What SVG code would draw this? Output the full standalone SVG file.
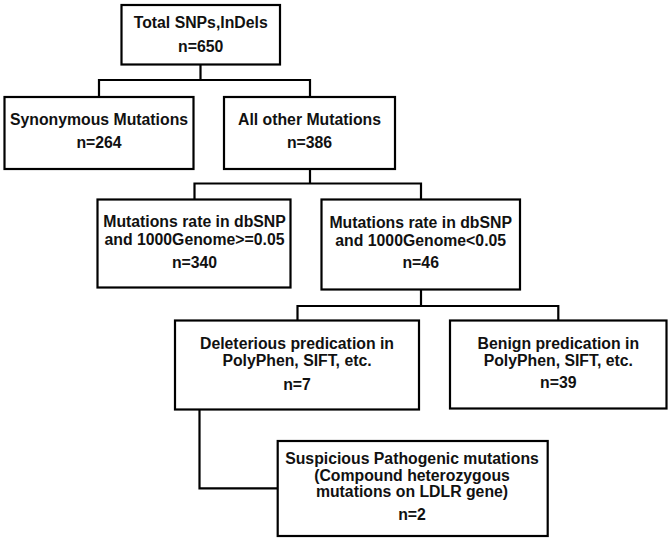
<svg xmlns="http://www.w3.org/2000/svg" width="672" height="542" viewBox="0 0 672 542">
<style>
.box{fill:#fff;stroke:#000;stroke-width:2.2}
.con{fill:none;stroke:#000;stroke-width:2.2}
text{font-family:"Liberation Sans",Arial,sans-serif;font-weight:bold;font-size:15.8px;fill:#111;text-anchor:middle}
</style>
<rect width="672" height="542" fill="#fff"/>
<g id="connectors">
<path class="con" d="M200.5,64.5 V80 M99,80 H310 M99,79 V97 M310,79 V97"/>
<path class="con" d="M310,169 V183.5 M194.5,183.5 H421 M194.5,182.5 V199.5 M421,182.5 V199.5"/>
<path class="con" d="M421,289.5 V306 M297.5,306 H558.3 M297.5,305 V320.5 M558.3,305 V320.5"/>
<path class="con" d="M199.5,409.5 V488.3 H277.7"/>
</g>
<g id="total">
<rect class="box" x="121.5" y="5" width="158.5" height="59.5"/>
<text x="200.7" y="27.7">Total SNPs,InDels</text>
<text x="200.7" y="51.7">n=650</text>
</g>
<g id="synonymous">
<rect class="box" x="4.5" y="97" width="189" height="72"/>
<text x="99" y="125">Synonymous Mutations</text>
<text x="99" y="147.5">n=264</text>
</g>
<g id="allother">
<rect class="box" x="224" y="97" width="171" height="72"/>
<text x="309.5" y="125">All other Mutations</text>
<text x="309.5" y="147.5">n=386</text>
</g>
<g id="rate_high">
<rect class="box" x="97.5" y="199.5" width="193" height="88"/>
<text x="194.5" y="227">Mutations rate in dbSNP</text>
<text x="194.5" y="244.5">and 1000Genome&gt;=0.05</text>
<text x="194.5" y="268">n=340</text>
</g>
<g id="rate_low">
<rect class="box" x="321.5" y="199.5" width="198.5" height="90"/>
<text x="420.7" y="228.3">Mutations rate in dbSNP</text>
<text x="420.7" y="245.7">and 1000Genome&lt;0.05</text>
<text x="420.7" y="268.3">n=46</text>
</g>
<g id="deleterious">
<rect class="box" x="175" y="320.5" width="244" height="89"/>
<text x="297" y="349">Deleterious predication in</text>
<text x="297" y="366">PolyPhen, SIFT, etc.</text>
<text x="297" y="389.5">n=7</text>
</g>
<g id="benign">
<rect class="box" x="450" y="320.5" width="216.5" height="88"/>
<text x="558.3" y="349.3">Benign predication in</text>
<text x="558.3" y="365.7">PolyPhen, SIFT, etc.</text>
<text x="558.3" y="388.3">n=39</text>
</g>
<g id="suspicious">
<rect class="box" x="277.7" y="441" width="270" height="95"/>
<text x="412" y="464">Suspicious Pathogenic mutations</text>
<text x="412" y="481">(Compound heterozygous</text>
<text x="412" y="497">mutations on LDLR gene)</text>
<text x="412" y="519.5">n=2</text>
</g>
</svg>
